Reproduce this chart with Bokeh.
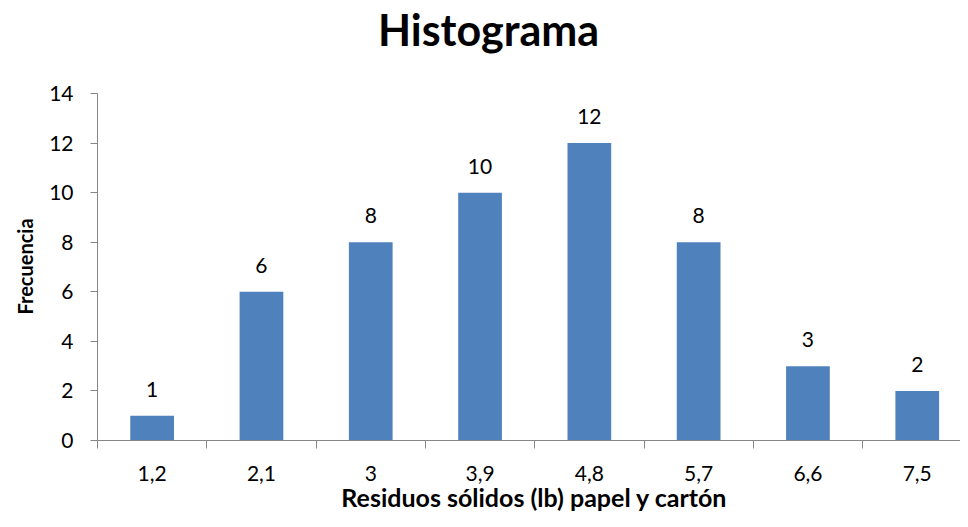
import math
from bokeh.plotting import figure
from bokeh.models import Range1d, FixedTicker, LabelSet, ColumnDataSource, Label
from bokeh.core.properties import value
from bokeh.embed import file_html
from bokeh.resources import INLINE

categories = ["1,2", "2,1", "3", "3,9", "4,8", "5,7", "6,6", "7,5"]
frequencies = [1, 6, 8, 10, 12, 8, 3, 2]
y_ticks = [0, 2, 4, 6, 8, 10, 12, 14]
y_max = 14

FONT = "Lato"
AXIS_GRAY = "#868686"
BAR_BLUE = "#4F81BD"

xs = list(range(len(categories)))
src = ColumnDataSource(dict(x=xs, top=frequencies, lab=[str(v) for v in frequencies]))

# canvas layout (pixels); the frame covers the whole canvas and the axes are pinned inside it
W, H = 960, 511
AX_LEFT, AX_TOP, AX_BOTTOM = 97, 93, 440
px_per_cat = 109.3
px_per_unit_y = (AX_BOTTOM - AX_TOP) / y_max

x0 = -0.5 - AX_LEFT / px_per_cat
x1 = -0.5 + (W - AX_LEFT) / px_per_cat
y0 = -(H - AX_BOTTOM) / px_per_unit_y
y1 = y_max + AX_TOP / px_per_unit_y

p = figure(width=W, height=H, output_backend="svg", toolbar_location=None, title=None,
           x_range=Range1d(x0, x1), y_range=Range1d(y0, y1),
           min_border_left=0, min_border_right=0, min_border_top=0, min_border_bottom=0)
p.outline_line_color = None
p.xgrid.grid_line_color = None
p.ygrid.grid_line_color = None

p.vbar(x="x", top="top", width=0.4, bottom=0, source=src, fill_color=BAR_BLUE, line_color=None)

labels = LabelSet(x="x", y="top", text="lab", source=src, y_offset=19, text_align="center",
                  text_baseline="alphabetic", text_font=value(FONT), text_font_size="21px",
                  text_color="black")
p.add_layout(labels)

xa = p.xaxis[0]
xa.fixed_location = 0
xa.bounds = (-0.5, x1)
xa.ticker = FixedTicker(ticks=xs, minor_ticks=[i - 0.5 for i in range(len(categories) + 1)])
xa.major_label_overrides = {i: c for i, c in enumerate(categories)}
xa.major_tick_line_color = None
xa.major_tick_out = 8
xa.major_tick_in = 0
xa.minor_tick_line_color = AXIS_GRAY
xa.minor_tick_out = 8
xa.minor_tick_in = 0
xa.axis_line_color = AXIS_GRAY
xa.major_label_text_font = FONT
xa.major_label_text_font_size = "21px"
xa.major_label_text_color = "black"
xa.major_label_standoff = 17

ya = p.yaxis[0]
ya.fixed_location = -0.5
ya.bounds = (0, y_max)
ya.ticker = FixedTicker(ticks=y_ticks)
ya.minor_tick_line_color = None
ya.major_tick_line_color = AXIS_GRAY
ya.major_tick_out = 7
ya.major_tick_in = 0
ya.axis_line_color = AXIS_GRAY
ya.major_label_text_font = FONT
ya.major_label_text_font_size = "21px"
ya.major_label_text_color = "black"
ya.major_label_standoff = 17

title = Label(x=488, y=H - 3, x_units="screen", y_units="screen", text="Histograma",
              text_align="center", text_baseline="top", text_font=FONT,
              text_font_size="43px", text_font_style="bold", text_color="black")
p.add_layout(title)

ylab = Label(x=24, y=H - 266, x_units="screen", y_units="screen", text="Frecuencia",
             angle=math.pi / 2, text_align="center", text_baseline="middle", text_font=FONT,
             text_font_size="20px", text_font_style="bold", text_color="black")
p.add_layout(ylab)

xlab = Label(x=534, y=0, x_units="screen", y_units="screen",
             text="Residuos sólidos (lb) papel y cartón",
             text_align="center", text_baseline="bottom", text_font=FONT,
             text_font_size="25px", text_font_style="bold", text_color="black")
p.add_layout(xlab)

open("out.html", "w").write(file_html(p, INLINE))
